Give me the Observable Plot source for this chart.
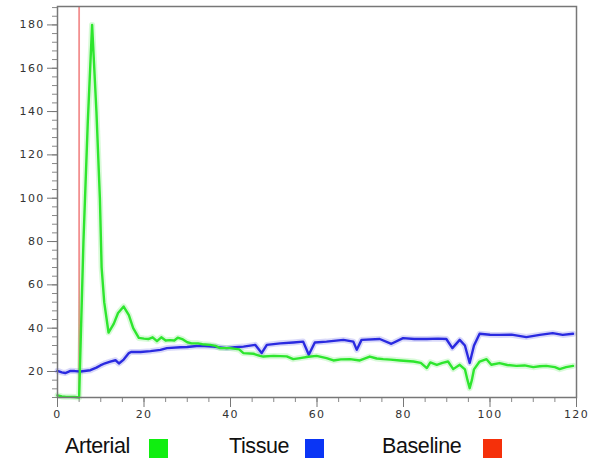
<!DOCTYPE html>
<html>
<head>
<meta charset="utf-8">
<script src="https://cdn.jsdelivr.net/npm/d3@7"></script>
<script src="https://cdn.jsdelivr.net/npm/@observablehq/plot@0.6"></script>
<style>
  html, body { margin: 0; padding: 0; background: #fff; }
  #wrap { position: relative; width: 601px; height: 461px; }
  #legend { position: absolute; left: 0; top: 420px; width: 601px; height: 41px; font-family: "Liberation Sans", Arial, sans-serif; font-size: 21.5px; letter-spacing: -0.4px; color: #111; }
  .lt { position: absolute; top: 14px; line-height: 24px; }
  .sw { position: absolute; top: 19px; width: 19px; height: 19px; }
  #chart svg text { letter-spacing: 1.3px; }
</style>
</head>
<body>
<div id="wrap"><div id="chart"></div><div id="legend"></div></div>
<script>
// ---- data ----
const arterialX = [0,1,2,3,4,5,6,7,8,9,9.8,10.2,10.8,11.8,13,14,15.3,16.5,17.5,18.8,20,21,22,23,24,25,26,27,27.8,29,30,31,32.5,33.5,35.3,36.5,37.6,39.9,42,43,45.3,46.8,47.6,50,53,54.5,56.1,58,59.9,62.2,63.8,65.5,67.6,69.9,72.2,73.8,75.3,77,79.2,82.3,84,85.4,86.2,87.7,89,90.3,91.5,93,94.2,94.8,95.3,95.8,96.3,97.6,99.2,100.3,102.2,104,106.1,108,110,111.5,113,115,116.1,117.6,119.2];
const arterialY = [9,8.5,8.3,8.3,8.2,8,80,135,180,140,100,68,52,38,42,47,50,46,40,35.5,35.2,35,35.8,34,35.8,34.3,34.5,34.3,35.6,34.8,33.5,33,33,32.6,32.3,31.8,30.8,30.8,30.2,28.5,28.2,27.2,26.9,27.2,27,25.7,26.2,26.8,27.2,26.2,25.1,25.6,25.7,25.1,26.9,26,25.7,25.5,25.1,24.6,24,21.6,24.2,23.1,24,24.6,21.1,23.1,21,16,12.3,16,21,24.6,25.7,23.1,23.9,23,22.6,22.8,22,22.4,22.6,22,21.1,22,22.6];
const tissueX = [0,1,1.8,3,4,5.3,7.6,9,9.9,11,12.2,13.4,14.2,15.3,16.5,17,19.2,21.5,23.8,25.3,28.4,30,32.2,34,36,39.1,41,43,45.7,47.2,48.4,51.5,54.5,56.8,58.1,59.5,62.2,66.1,68.4,69.2,70.3,74.5,77.2,79.9,82.5,85.4,88,89.9,91.3,93,94.2,95.3,96.3,97.6,100,102.2,105,108.4,111.5,114.5,116.8,119.2];
const tissueY = [20.3,19.6,19.3,20.3,20.2,20,20.6,21.8,22.8,23.8,24.6,25.2,23.7,25.5,28.5,29,29,29.4,30,30.8,31.2,31.3,31.8,31.7,31.5,30.8,31.2,31.5,32.3,28.5,32.3,33,33.4,33.8,27.7,33.4,33.8,34.6,33.8,30,34.6,35,32.8,35.4,35,35,35.2,35,30.8,34.6,32,23.9,32,37.4,37,36.9,37,35.9,36.9,37.7,36.9,37.4];
const baselineX = [5];
const xMajorTicks = [0,20,40,60,80,100,120];
const yMajorTicks = [20,40,60,80,100,120,140,160,180];
const legendLabels = ["Arterial","Tissue","Baseline"];

const arterial = arterialX.map((x,i) => ({x, y: arterialY[i]}));
const tissue = tissueX.map((x,i) => ({x, y: tissueY[i]}));

const green = "#2ee62e", blue = "#2a2ae0", red = "#f29090";

const chart = Plot.plot({
  width: 601,
  height: 420,
  marginLeft: 57,
  marginRight: 25,
  marginTop: 6,
  marginBottom: 23,
  style: {fontFamily: "DejaVu Sans, sans-serif", fontSize: "11px", color: "#333", background: "#fff"},
  x: {domain: [0,120], label: null},
  y: {domain: [8,188.5], label: null},
  marks: [
    Plot.axisY({ticks: d3.range(8,189,4), tickSize: 5, text: null, stroke: "#888", label: null}),
    Plot.axisY({ticks: yMajorTicks, tickSize: 10, tickPadding: 3, stroke: "#777", label: null}),
    Plot.axisX({ticks: d3.range(0,121,5), tickSize: 5, text: null, stroke: "#888", label: null}),
    Plot.axisX({ticks: xMajorTicks, tickSize: 10, tickPadding: 3, stroke: "#777", label: null}),
    Plot.ruleX(baselineX, {stroke: red, strokeWidth: 1.8}),
    Plot.line(tissue, {x: "x", y: "y", stroke: blue, strokeWidth: 6, strokeOpacity: 0.18}),
    Plot.line(arterial, {x: "x", y: "y", stroke: green, strokeWidth: 6, strokeOpacity: 0.18}),
    Plot.line(tissue, {x: "x", y: "y", stroke: blue, strokeWidth: 2.4}),
    Plot.line(arterial, {x: "x", y: "y", stroke: green, strokeWidth: 2.4}),
    Plot.frame({stroke: "#777", strokeWidth: 1.5})
  ]
});
document.getElementById("chart").appendChild(chart);

const legend = document.getElementById("legend");
const items = [
  {label: legendLabels[0], tx: 65, sx: 149, color: "#10ee10"},
  {label: legendLabels[1], tx: 229, sx: 305, color: "#0a35f5"},
  {label: legendLabels[2], tx: 382, sx: 483, color: "#f5300a"}
];
for (const it of items) {
  const t = document.createElement("span");
  t.className = "lt"; t.style.left = it.tx + "px"; t.textContent = it.label;
  legend.appendChild(t);
  const s = document.createElement("span");
  s.className = "sw"; s.style.left = it.sx + "px"; s.style.background = it.color;
  legend.appendChild(s);
}
</script>
</body>
</html>
